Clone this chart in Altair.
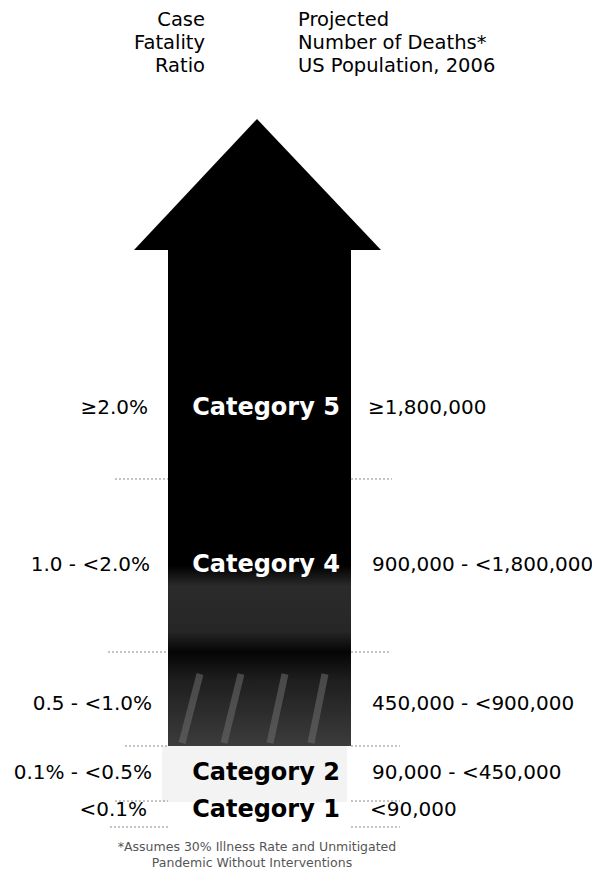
import altair as alt
import pandas as pd

# ---------------- data ----------------
categories = ["Category 5", "Category 4", "Category 3", "Category 2", "Category 1"]
cfr_labels = ["≥2.0%", "1.0 - <2.0%", "0.5 - <1.0%", "0.1% - <0.5%", "<0.1%"]
death_labels = ["≥1,800,000", "900,000 - <1,800,000", "450,000 - <900,000",
                "90,000 - <450,000", "<90,000"]
show_category = [True, True, False, True, True]
category_text_color = ["white", "white", "black", "black", "black"]

header_left = ["Case", "Fatality", "Ratio"]
header_right = ["Projected", "Number of Deaths*", "US Population, 2006"]
footnote = ["*Assumes 30% Illness Rate and Unmitigated", "Pandemic Without Interventions"]

# layout (page pixel coordinates of the drawing)
band_top = [250, 479, 652, 746, 802]
band_bottom = [479, 652, 746, 802, 828]
label_y = [408, 565, 704, 773, 810]
left_label_x = [148, 150, 152, 152, 147]
right_label_x = [368, 372, 372, 372, 370]
shaft_x = [168, 351]
head_x = [134, 257, 381]
head_y = [250, 119, 250]
header_y = [20, 43, 66]
stripe_bottom_x = [182, 224, 270, 311]
stripe_top_x = [200, 241, 285, 325]

# ---------------- scales ----------------
W, H = 584, 863
xs = alt.Scale(domain=[8, 8 + W], nice=False, zero=False)
ys = alt.Scale(domain=[8, 8 + H], nice=False, zero=False, reverse=True)


def X(f):
    return alt.X(f, type="quantitative", scale=xs, axis=None)


def Y(f):
    return alt.Y(f, type="quantitative", scale=ys, axis=None)


# arrow head
head_df = pd.DataFrame({"x": head_x, "y": head_y, "y2": [head_y[0]] * 3})
head = alt.Chart(head_df).mark_area(color="black", interpolate="linear").encode(
    x=X("x"), y=Y("y"), y2="y2:Q"
)

# shaft bands
def band(i, color, x0=None, x1=None):
    d = pd.DataFrame({
        "x": [shaft_x[0] if x0 is None else x0],
        "x2": [shaft_x[1] if x1 is None else x1],
        "y": [band_top[i]], "y2": [band_bottom[i]],
    })
    return alt.Chart(d).mark_rect(color=color).encode(
        x=X("x"), x2="x2:Q", y=Y("y"), y2="y2:Q"
    )


def vgrad(stops):
    return alt.LinearGradient(
        gradient="linear", x1=0, y1=0, x2=0, y2=1,
        stops=[alt.GradientStop(color=c, offset=o) for o, c in stops],
    )


cat5 = band(0, "black")
cat4 = band(1, vgrad([(0, "#000000"), (0.5, "#000000"), (0.62, "#2b2b2b"),
                      (0.88, "#262626"), (1.0, "#050505")]))
cat3 = band(2, vgrad([(0, "#050505"), (0.3, "#1e1e1e"), (1.0, "#3c3c3c")]))
cat2 = band(3, "#f3f3f3", 162, 347)

stripe_df = pd.DataFrame({
    "x": stripe_bottom_x, "x2": stripe_top_x,
    "y": [band_bottom[2] - 3] * 4, "y2": [band_top[2] + 22] * 4,
})
stripes = alt.Chart(stripe_df).mark_rule(color="#6e6e6e", strokeWidth=7, opacity=0.55).encode(
    x=X("x"), x2="x2:Q", y=Y("y"), y2="y2:Q"
)

# dotted boundary ticks on both sides
tick_y = [479, 652, 746, 801, 827]
left_from = [115, 108, 125, 115, 110]
right_to = [392, 390, 400, 400, 400]
ticks_df = pd.DataFrame({
    "x": left_from + [shaft_x[1]] * 5,
    "x2": [shaft_x[0]] * 5 + right_to,
    "y": tick_y + tick_y,
})
ticks = alt.Chart(ticks_df).mark_rule(color="#8a8a8a", strokeWidth=1.2, strokeDash=[2, 2]).encode(
    x=X("x"), x2="x2:Q", y=Y("y")
)

# texts
lab_df = pd.DataFrame({
    "cfr": cfr_labels, "deaths": death_labels, "cat": categories,
    "y": label_y, "lx": left_label_x, "rx": right_label_x,
    "show": show_category, "tc": category_text_color,
})
left_text = alt.Chart(lab_df).mark_text(
    align="right", baseline="middle", font="DejaVu Sans", fontSize=20, color="black"
).encode(x=X("lx"), y=Y("y"), text="cfr:N")
right_text = alt.Chart(lab_df).mark_text(
    align="left", baseline="middle", font="DejaVu Sans", fontSize=20, color="black"
).encode(x=X("rx"), y=Y("y"), text="deaths:N")

cat_df = lab_df[lab_df["show"]].copy()
cat_df["cx"] = 266
cat_text = alt.Chart(cat_df).mark_text(
    align="center", baseline="middle", font="DejaVu Sans", fontSize=24, fontWeight="bold"
).encode(
    x=X("cx"), y=Y("y"), text="cat:N",
    color=alt.Color("tc:N", scale=None),
)

hl_df = pd.DataFrame({"t": header_left, "y": header_y, "x": [205] * 3})
hr_df = pd.DataFrame({"t": header_right, "y": header_y, "x": [298] * 3})
head_left = alt.Chart(hl_df).mark_text(
    align="right", baseline="middle", font="DejaVu Sans", fontSize=19.5, color="black"
).encode(x=X("x"), y=Y("y"), text="t:N")
head_right = alt.Chart(hr_df).mark_text(
    align="left", baseline="middle", font="DejaVu Sans", fontSize=19.5, color="black"
).encode(x=X("x"), y=Y("y"), text="t:N")

fn_df = pd.DataFrame({"t": footnote, "y": [847, 863], "x": [257, 252]})
foot = alt.Chart(fn_df).mark_text(
    align="center", baseline="middle", font="DejaVu Sans", fontSize=12.5, color="#555555"
).encode(x=X("x"), y=Y("y"), text="t:N")

chart = alt.layer(
    cat2, cat3, cat4, cat5, stripes, head, ticks,
    left_text, right_text, cat_text, head_left, head_right, foot,
).properties(
    width=W, height=H, padding=0,
    autosize=alt.AutoSizeParams(type="none"),
).configure_view(stroke=None)

chart.save("out.html", embed_options={"renderer": "svg", "actions": False})
